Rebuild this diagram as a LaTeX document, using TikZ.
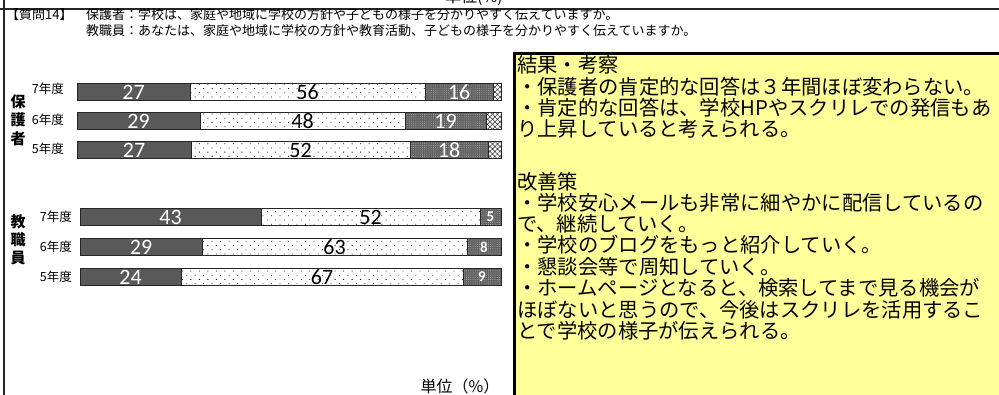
\documentclass[tikz,border=0pt]{standalone}
\usepackage{fontspec}
\setmainfont{Carlito}
\newfontfamily\jp{Noto Sans CJK JP}
\usetikzlibrary{patterns.meta}
\definecolor{memo}{HTML}{FFFF99}
\definecolor{bardark}{HTML}{595959}

\tikzset{
  frame/.style={line width=2pt,black!85},
  segyes/.style={draw=black!85,line width=0.7pt,fill=bardark},
  segmid/.style={draw=black!85,line width=0.7pt,pattern={Dots[angle=45,distance=6pt,radius=0.6pt]},pattern color=black},
  seglow/.style={draw=black!85,line width=0.7pt,preaction={fill=black!62},pattern={Dots[distance=2.2pt,radius=0.5pt]},pattern color=white!70!black},
  segrest/.style={draw=black!85,line width=0.7pt,pattern={Hatch[angle=45,distance=3.5pt,line width=0.5pt]},pattern color=black!80},
  numw/.style={font=\fontsize{22}{22}\selectfont,text=white,inner sep=0pt},
  numk/.style={font=\fontsize{22}{22}\selectfont,text=black,inner sep=0pt},
  numsmall/.style={font=\fontsize{15}{15}\selectfont\bfseries,text=white,inner sep=0pt},
  head/.style={font=\jp\fontsize{13}{14}\selectfont,inner sep=0pt,anchor=west},
  grp/.style={font=\jp\bfseries\fontsize{15}{15}\selectfont,inner sep=0pt},
  year/.style={font=\jp\fontsize{12.5}{13}\selectfont,inner sep=0pt,anchor=east},
  unit/.style={font=\jp\fontsize{16}{16}\selectfont,inner sep=0pt},
  memotext/.style={font=\jp\fontsize{20.3}{21}\selectfont,inner sep=0pt,anchor=west}
}

\begin{document}
\begin{tikzpicture}[x=1pt,y=-1pt]
  \useasboundingbox (0,0) rectangle (999,394);

  % frame and headings
  \draw[frame] (4,-5)--(4,400);
  \draw[frame] (-5,9)--(1005,9);
  \node[unit] (unittop) at (474,-2.5) {単位(\%)};
  \node[head] (qno) at (6,15) {【質問14】};
  \node[head] (qparent) at (86,15) {保護者：学校は、家庭や地域に学校の方針や子どもの様子を分かりやすく伝えていますか。};
  \node[head] (qteacher) at (86,31) {教職員：あなたは、家庭や地域に学校の方針や教育活動、子どもの様子を分かりやすく伝えていますか。};

  % parents
  \node[grp] (gp1) at (18,102) {保};
  \node[grp] (gp2) at (18,120) {護};
  \node[grp] (gp3) at (18,139) {者};
  \node[year] (yp7) at (64,89) {7年度};
  \node[year] (yp6) at (64,120) {6年度};
  \node[year] (yp5) at (64,149) {5年度};

  \draw[segyes] (77,83.5) rectangle (190,100);
  \draw[segmid] (190,83.5) rectangle (425,100);
  \draw[seglow] (425,83.5) rectangle (493,100);
  \draw[segrest] (493,83.5) rectangle (501,100);
  \node[numw] (p7a) at (133.5,92.5) {27};
  \node[numk] (p7b) at (307.5,92.5) {56};
  \node[numw] (p7c) at (459,92.5) {16};

  \draw[segyes] (77,112.5) rectangle (200,129.5);
  \draw[segmid] (200,112.5) rectangle (405,129.5);
  \draw[seglow] (405,112.5) rectangle (486,129.5);
  \draw[segrest] (486,112.5) rectangle (501,129.5);
  \node[numw] (p6a) at (138.5,121.5) {29};
  \node[numk] (p6b) at (302.5,121.5) {48};
  \node[numw] (p6c) at (445.5,121.5) {19};

  \draw[segyes] (77,141.5) rectangle (191,158.5);
  \draw[segmid] (191,141.5) rectangle (410,158.5);
  \draw[seglow] (410,141.5) rectangle (488,158.5);
  \draw[segrest] (488,141.5) rectangle (501,158.5);
  \node[numw] (p5a) at (134,150.5) {27};
  \node[numk] (p5b) at (300.5,150.5) {52};
  \node[numw] (p5c) at (449,150.5) {18};

  % teachers
  \node[grp] (gt1) at (18,222) {教};
  \node[grp] (gt2) at (18,240) {職};
  \node[grp] (gt3) at (18,258) {員};
  \node[year] (yt7) at (72,217) {7年度};
  \node[year] (yt6) at (72,247) {6年度};
  \node[year] (yt5) at (72,277) {5年度};

  \draw[segyes] (80,208) rectangle (261,225.5);
  \draw[segmid] (261,208) rectangle (480,225.5);
  \draw[seglow] (480,208) rectangle (501,225.5);
  \node[numw] (t7a) at (170.5,217) {43};
  \node[numk] (t7b) at (370.5,217) {52};
  \node[numsmall] (t7c) at (490.5,217) {5};

  \draw[segyes] (80,238) rectangle (202,255.5);
  \draw[segmid] (202,238) rectangle (467,255.5);
  \draw[seglow] (467,238) rectangle (501,255.5);
  \node[numw] (t6a) at (141,247) {29};
  \node[numk] (t6b) at (334.5,247) {63};
  \node[numsmall] (t6c) at (484,247) {8};

  \draw[segyes] (80,268) rectangle (181,285.5);
  \draw[segmid] (181,268) rectangle (463,285.5);
  \draw[seglow] (463,268) rectangle (501,285.5);
  \node[numw] (t5a) at (130.5,277) {24};
  \node[numk] (t5b) at (322,277) {67};
  \node[numsmall] (t5c) at (482,277) {9};

  \node[unit] (unitbot) at (460,386) {単位（\%）};

  % notes
  \draw[line width=3pt,fill=memo] (514,53.5) rectangle (1006,402);
  \node[memotext] (r0) at (517,65) {結果・考察};
  \node[memotext] (r1) at (517,86.5) {・保護者の肯定的な回答は３年間ほぼ変わらない。};
  \node[memotext] (r2) at (517,108) {・肯定的な回答は、学校HPやスクリレでの発信もあ};
  \node[memotext] (r3) at (517,129) {り上昇していると考えられる。};
  \node[memotext] (k0) at (517,182) {改善策};
  \node[memotext] (k1) at (517,203) {・学校安心メールも非常に細やかに配信しているの};
  \node[memotext] (k2) at (517,224) {で、継続していく。};
  \node[memotext] (k3) at (517,245) {・学校のブログをもっと紹介していく。};
  \node[memotext] (k4) at (517,266.5) {・懇談会等で周知していく。};
  \node[memotext] (k5) at (517,288) {・ホームページとなると、検索してまで見る機会が};
  \node[memotext] (k6) at (517,309.5) {ほぼないと思うので、今後はスクリレを活用するこ};
  \node[memotext] (k7) at (517,331) {とで学校の様子が伝えられる。};
\end{tikzpicture}
\end{document}
